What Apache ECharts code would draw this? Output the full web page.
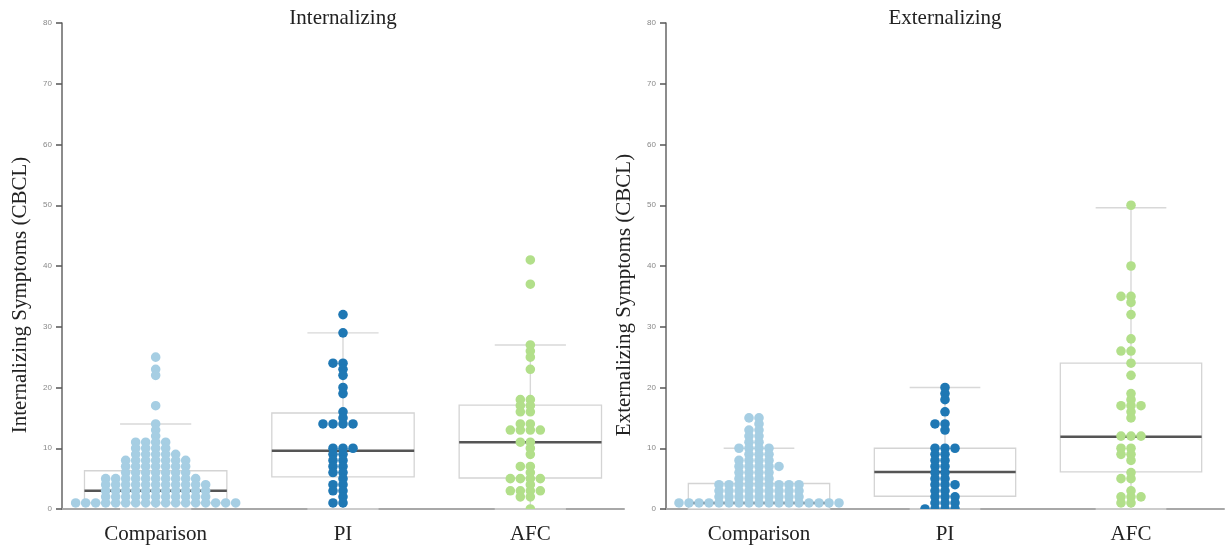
<!DOCTYPE html>
<html><head><meta charset="utf-8">
<script src="https://cdn.jsdelivr.net/npm/echarts@6/dist/echarts.min.js"></script>
<style>html,body{margin:0;padding:0;background:#fff}#c{width:1225px;height:550px}</style>
</head><body><div id="c"></div>
<script>
const categories = ['Comparison', 'PI', 'AFC'];
const panelTitles = ['Internalizing', 'Externalizing'];
const axisNames = ['Internalizing Symptoms (CBCL)', 'Externalizing Symptoms (CBCL)'];
const yMin = 0, yMax = 80, yStep = 10;
const groupColors = ['#a6cee3', '#1f78b4', '#b2df8a'];

// individual scores
const intComparison = [25,23,22,17,14,13,12,
  11,11,11,11, 10,10,10,10, 9,9,9,9,9,
  8,8,8,8,8,8,8, 7,7,7,7,7,7,7, 6,6,6,6,6,6,6,
  5,5,5,5,5,5,5,5,5,5, 4,4,4,4,4,4,4,4,4,4,4,
  3,3,3,3,3,3,3,3,3,3,3, 2,2,2,2,2,2,2,2,2,2,2,
  1,1,1,1,1,1,1,1,1,1,1,1,1,1,1,1,1];
const intPI = [32,29,24,24,23,22,20,19,16,15,14,14,14,14,10,10,10,9,9,8,8,7,7,6,6,5,4,4,3,3,2,1,1];
const intAFC = [41,37,27,26,25,23,18,18,17,17,16,16,14,14,13,13,13,13,11,11,10,9,7,7,6,5,5,5,5,4,3,3,3,3,2,2,0];
const extComparison = [15,15,14,13,13,12,12,11,11,10,10,10,10,9,9,9,8,8,8,8,
  7,7,7,7,7, 6,6,6,6, 5,5,5,5,
  4,4,4,4,4,4,4,4,4, 3,3,3,3,3,3,3,3,3, 2,2,2,2,2,2,2,2,2,
  1,1,1,1,1,1,1,1,1,1,1,1,1,1,1,1,1];
const extPI = [20,19,18,16,14,14,13,10,10,10,9,9,8,8,7,7,6,6,5,5,4,4,4,3,3,2,2,2,1,1,1,0,0,0,0];
const extAFC = [50,40,35,35,34,32,28,26,26,24,22,19,18,17,17,17,16,15,12,12,12,10,10,9,9,8,6,5,5,3,2,2,2,1,1];

// box statistics: [lower whisker, Q1, median, Q3, upper whisker]
const intBoxes = [[0,1,3,6.3,14],[0,5.3,9.6,15.8,29],[0,5.1,11,17.1,27]];
const extBoxes = [[0,0,1,4.2,10],[0,2.1,6.1,10,20],[0,6.1,11.9,24,49.6]];

const panels = [
  {groups: [intComparison, intPI, intAFC], boxes: intBoxes},
  {groups: [extComparison, extPI, extAFC], boxes: extBoxes}
];

const SERIF = '"Liberation Serif", "DejaVu Serif", serif';
const DX = 10, R = 4.8;

// beeswarm columns: same value -> 0, -1, +1, -2, +2 ...
function swarmCols(values) {
  const seen = {};
  return values.map(v => {
    const k = seen[v] || 0; seen[v] = k + 1;
    return k === 0 ? 0 : (k % 2 === 1 ? -(k + 1) / 2 : k / 2);
  });
}

const grids = [
  {left: 62, top: 23, width: 562, height: 486},
  {left: 666, top: 23, width: 558, height: 486}
];
const xAxes = [], yAxes = [], series = [], titles = [];
panels.forEach((p, gi) => {
  xAxes.push({
    type: 'category', gridIndex: gi, data: categories,
    axisLine: {lineStyle: {color: '#a8a8a8', width: 2}},
    axisTick: {alignWithLabel: true, length: 5, lineStyle: {color: '#999'}},
    axisLabel: {fontFamily: SERIF, fontSize: 21, color: '#222', margin: 15},
    splitLine: {show: false}
  });
  yAxes.push({
    type: 'value', gridIndex: gi, min: yMin, max: yMax, interval: yStep,
    name: axisNames[gi], nameLocation: 'middle', nameGap: 31,
    nameTextStyle: {fontFamily: SERIF, fontSize: 21, color: '#222', padding: [0, 58, 0, 0]},
    axisLine: {show: true, lineStyle: {color: '#666', width: 1.5}},
    axisTick: {show: true, length: 6, lineStyle: {color: '#555', width: 1.5}},
    axisLabel: {fontSize: 8, color: '#888', margin: 10},
    splitLine: {show: false}
  });
  titles.push({
    text: panelTitles[gi], left: grids[gi].left + grids[gi].width / 2 - 5, top: 3, textAlign: 'center',
    textStyle: {fontFamily: SERIF, fontSize: 21, fontWeight: 'normal', color: '#222'}
  });
  series.push({
    type: 'custom', xAxisIndex: gi, yAxisIndex: gi, z: 1,
    data: p.boxes.map((b, i) => [i].concat(b)),
    encode: {x: 0, y: [1, 2, 3, 4, 5]},
    renderItem: function (params, api) {
      const i = api.value(0);
      const yy = k => api.coord([i, api.value(k)])[1];
      const x = api.coord([i, 0])[0];
      const bw = api.size([1, 0])[0];
      const hb = bw * 0.38, hc = bw * 0.19;
      const wl = {stroke: '#d8d8d8', lineWidth: 1.4};
      return {type: 'group', children: [
        {type: 'line', shape: {x1: x, y1: yy(5), x2: x, y2: yy(4)}, style: wl},
        {type: 'line', shape: {x1: x, y1: yy(2), x2: x, y2: yy(1)}, style: wl},
        {type: 'line', shape: {x1: x - hc, y1: yy(5), x2: x + hc, y2: yy(5)}, style: wl},
        {type: 'line', shape: {x1: x - hc, y1: yy(1), x2: x + hc, y2: yy(1)}, style: wl},
        {type: 'rect', shape: {x: x - hb, y: yy(4), width: 2 * hb, height: yy(2) - yy(4)},
          style: {fill: '#fff', stroke: '#d4d4d4', lineWidth: 1.3}},
        {type: 'line', shape: {x1: x - hb, y1: yy(3), x2: x + hb, y2: yy(3)},
          style: {stroke: '#555', lineWidth: 2.4}}
      ]};
    }
  });
  p.groups.forEach((vals, ci) => {
    const cols = swarmCols(vals);
    series.push({
      type: 'custom', xAxisIndex: gi, yAxisIndex: gi, z: 3, clip: true,
      data: vals.map((v, k) => [ci, v, cols[k]]),
      encode: {x: 0, y: 1},
      renderItem: function (params, api) {
        const c = api.coord([api.value(0), api.value(1)]);
        return {type: 'circle', shape: {cx: c[0] + api.value(2) * DX, cy: c[1], r: R},
          style: {fill: groupColors[ci]}};
      }
    });
  });
});

const chart = echarts.init(document.getElementById('c'), null, {renderer: 'canvas'});
chart.setOption({
  animation: false, backgroundColor: '#fff',
  title: titles, grid: grids, xAxis: xAxes, yAxis: yAxes, series: series
});
</script></body></html>
